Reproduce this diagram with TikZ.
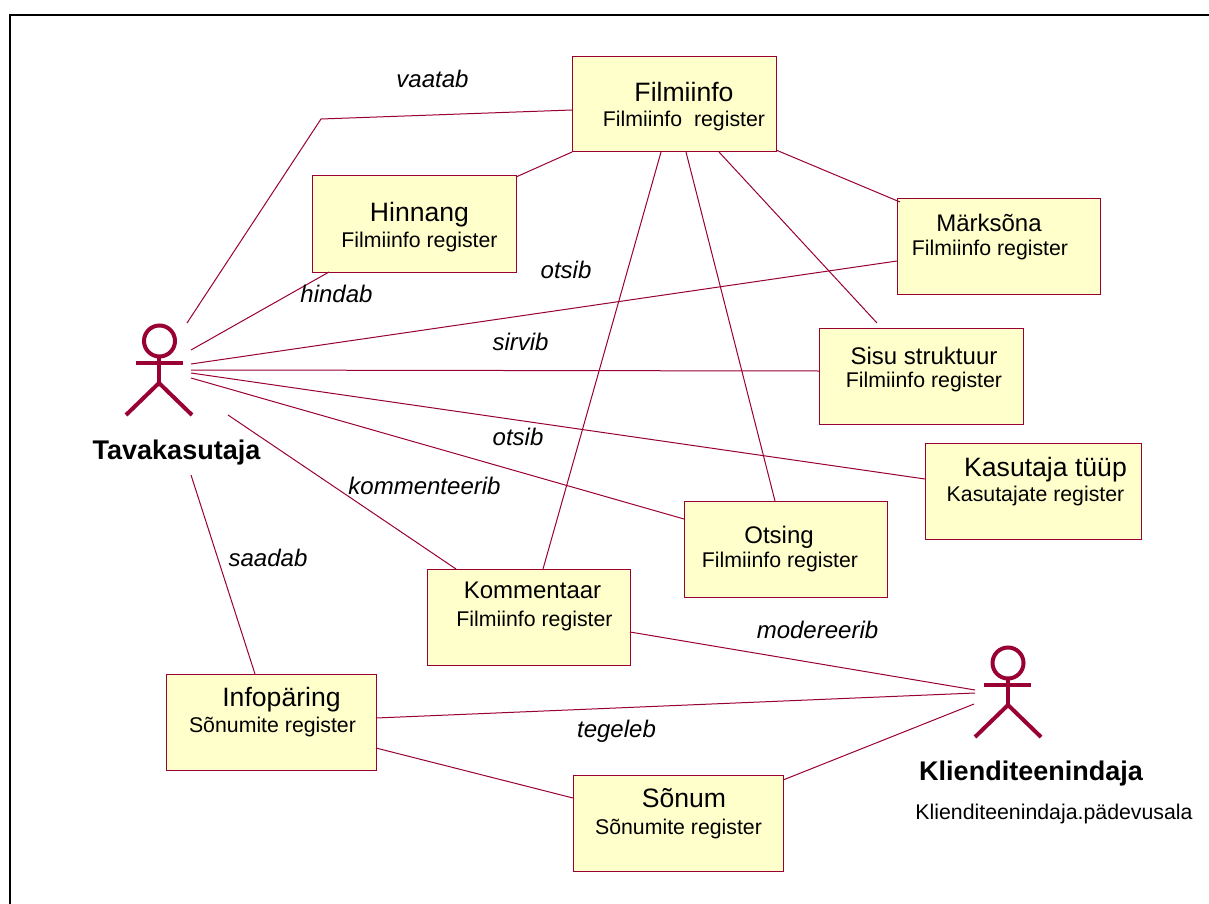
\documentclass[tikz,border=0pt]{standalone}
\usepackage{fontspec}
\setmainfont{Liberation Sans}
\definecolor{umlline}{HTML}{990033}
\definecolor{umlfill}{HTML}{FFFFCC}
\tikzset{
  x=1pt,y=-1pt,
  box/.style={draw=umlline,fill=umlfill,line width=1pt,anchor=north west,inner sep=0pt,outer sep=0pt},
  conn/.style={draw=umlline,line width=1pt},
  actor/.style={draw=umlline,line width=4pt},
  title/.style={anchor=base,inner sep=0pt,font=\fontsize{26.6}{30}\selectfont},
  smalltitle/.style={anchor=base,inner sep=0pt,font=\fontsize{24}{28}\selectfont},
  sub/.style={anchor=base,inner sep=0pt,font=\fontsize{21.3}{25}\selectfont},
  verb/.style={anchor=base,inner sep=0pt,font=\fontsize{24}{28}\selectfont\itshape},
  actorname/.style={anchor=base,inner sep=0pt,font=\fontsize{27}{30}\selectfont\bfseries},
}
\begin{document}
\begin{tikzpicture}
\useasboundingbox (0,0) rectangle (1209,904);
\fill[white] (0,0) rectangle (1209,904);
\draw[black,line width=2.2pt] (10.3,904) -- (10.3,14.7) -- (1209,14.7);

% boxes
\node[box,minimum width=204pt,minimum height=95pt] (film) at (572,57) {};
\node[box,minimum width=204pt,minimum height=96pt] (hinn) at (312,176) {};
\node[box,minimum width=203pt,minimum height=96pt] (mark) at (897,198) {};
\node[box,minimum width=204pt,minimum height=96pt] (sisu) at (819,328) {};
\node[box,minimum width=216pt,minimum height=96pt] (ktyyp) at (925,443) {};
\node[box,minimum width=203pt,minimum height=96pt] (ots) at (684,501) {};
\node[box,minimum width=203pt,minimum height=96pt] (komm) at (427,569) {};
\node[box,minimum width=210pt,minimum height=96pt] (info) at (166,674) {};
\node[box,minimum width=210pt,minimum height=96pt] (son) at (573,775) {};

% box texts
\node[title] (filmt) at (684,102) {Filmiinfo};
\node[sub] (films) at (684,127) {Filmiinfo\ \ register};
\node[title] (hinnt) at (419.5,221) {Hinnang};
\node[sub] (hinns) at (419.5,247) {Filmiinfo register};
\node[smalltitle] (markt) at (989,231) {Märksõna};
\node[sub] (marks) at (990,255) {Filmiinfo register};
\node[smalltitle] (sisut) at (924,364) {Sisu struktuur};
\node[sub] (sisus) at (924,387) {Filmiinfo register};
\node[title] (ktyypt) at (1045.5,476) {Kasutaja tüüp};
\node[sub] (ktyyps) at (1035.5,501) {Kasutajate register};
\node[smalltitle] (otst) at (779,543) {Otsing};
\node[sub] (otss) at (780,567) {Filmiinfo register};
\node[smalltitle] (kommt) at (532.5,598) {Kommentaar};
\node[sub] (komms) at (534.5,626) {Filmiinfo register};
\node[title] (infot) at (281.5,706) {Infopäring};
\node[sub] (infos) at (272.5,732) {Sõnumite register};
\node[title] (sont) at (684,807) {Sõnum};
\node[sub] (sons) at (678.5,834) {Sõnumite register};

% actors
\node[inner sep=0pt,minimum size=0pt] (tava) at (159,370) {};
\draw[actor] ([shift={(0.5,-29)}]tava.center) circle (15.5);
\draw[actor] ([shift={(0,-13)}]tava.center) -- ([shift={(0,13)}]tava.center);
\draw[actor] ([shift={(-23,-7)}]tava.center) -- ([shift={(24,-7)}]tava.center);
\draw[actor] ([shift={(-33,45)}]tava.center) -- ([shift={(0,13)}]tava.center) -- ([shift={(33,45)}]tava.center);
\node[inner sep=0pt,minimum size=0pt] (klient) at (1008,692) {};
\draw[actor] ([shift={(0,-29)}]klient.center) circle (15.5);
\draw[actor] ([shift={(0,-13)}]klient.center) -- ([shift={(0,13)}]klient.center);
\draw[actor] ([shift={(-24,-7)}]klient.center) -- ([shift={(23,-7)}]klient.center);
\draw[actor] ([shift={(-33,45)}]klient.center) -- ([shift={(0,13)}]klient.center) -- ([shift={(33,45)}]klient.center);
\node[actorname] (tavan) at (176.5,459) {Tavakasutaja};
\node[actorname] (klientn) at (1031,780) {Klienditeenindaja};
\node[sub] (klients) at (1054,819) {Klienditeenindaja.pädevusala};

% connectors
\coordinate (bend) at (321,119);
\draw[conn] ([shift={(28,-47)}]tava.center) -- (bend) -- ([shift={(0,53)}]film.north west);
\draw[conn] ([shift={(32,-20)}]tava.center) -- ([shift={(17,96)}]hinn.north west);
\draw[conn] ([shift={(32,-6)}]tava.center) -- ([shift={(0,63)}]mark.north west);
\draw[conn] ([shift={(32,0)}]tava.center) -- ([shift={(0,43)}]sisu.north west);
\draw[conn] ([shift={(32,3)}]tava.center) -- ([shift={(0,36)}]ktyyp.north west);
\draw[conn] ([shift={(32,8)}]tava.center) -- ([shift={(0,18)}]ots.north west);
\draw[conn] ([shift={(69,45)}]tava.center) -- ([shift={(29,0)}]komm.north west);
\draw[conn] ([shift={(32,105)}]tava.center) -- ([shift={(89,0)}]info.north west);
\draw[conn] ([shift={(204,1)}]hinn.north west) -- ([shift={(0,95)}]film.north west);
\draw[conn] ([shift={(89,95)}]film.north west) -- ([shift={(116,0)}]komm.north west);
\draw[conn] ([shift={(114,95)}]film.north west) -- ([shift={(91,0)}]ots.north west);
\draw[conn] ([shift={(147,95)}]film.north west) -- ([shift={(58,-5)}]sisu.north west);
\draw[conn] ([shift={(204,93)}]film.north west) -- ([shift={(3,4)}]mark.north west);
\draw[conn] ([shift={(203,63)}]komm.north west) -- ([shift={(-33,-2)}]klient.center);
\draw[conn] ([shift={(210,44)}]info.north west) -- ([shift={(-33,1)}]klient.center);
\draw[conn] ([shift={(210,74)}]info.north west) -- ([shift={(0,23)}]son.north west);
\draw[conn] ([shift={(210,5)}]son.north west) -- ([shift={(-34,12)}]klient.center);

% verbs
\node[verb] (v1) at (432.5,88) {vaatab};
\node[verb] (v2) at (336.5,302) {hindab};
\node[verb] (v3) at (566,278) {otsib};
\node[verb] (v4) at (520.5,350) {sirvib};
\node[verb] (v5) at (518,445) {otsib};
\node[verb] (v6) at (424.5,494) {kommenteerib};
\node[verb] (v7) at (268,566) {saadab};
\node[verb] (v8) at (817.5,638) {modereerib};
\node[verb] (v9) at (616.5,737) {tegeleb};
\end{tikzpicture}
\end{document}
